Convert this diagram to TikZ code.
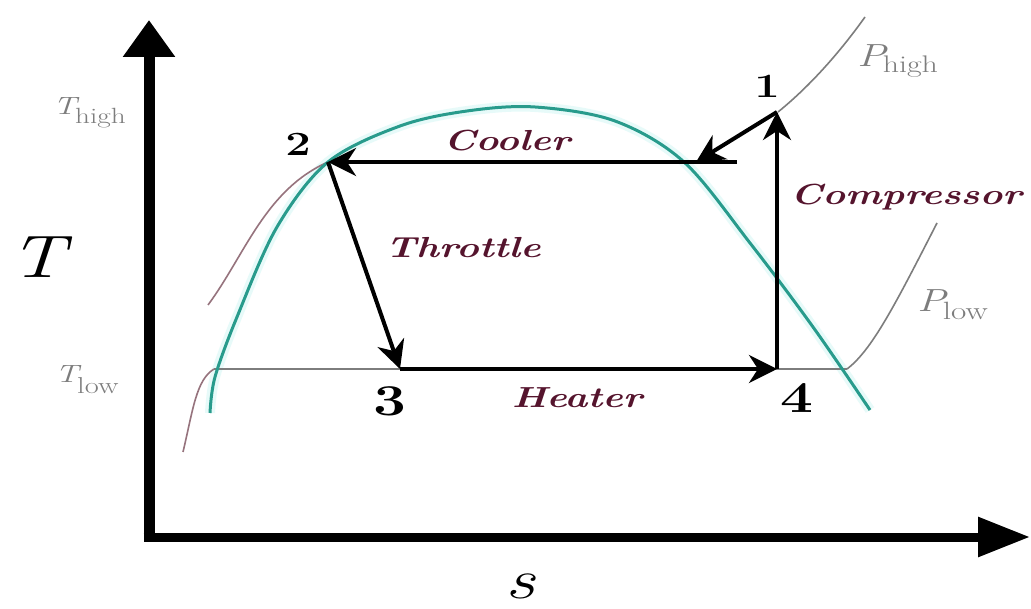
\documentclass[tikz,border=0pt]{standalone}
\usepackage{fontspec}
\usetikzlibrary{arrows.meta}
\definecolor{dome}{RGB}{40,155,140}
\definecolor{domehalo}{RGB}{215,248,245}
\definecolor{labred}{RGB}{85,20,45}
\definecolor{isogray}{RGB}{125,125,125}
\definecolor{liqgray}{RGB}{150,115,125}
\newcommand{\wide}[1]{\scalebox{1.33}[1]{#1}}
\newcommand{\procfont}{\fontsize{29}{32}\selectfont\bfseries\itshape}
\newcommand{\numfont}{\fontsize{34}{36}\selectfont\bfseries}
\newcommand{\bignumfont}{\fontsize{44}{46}\selectfont\bfseries}
\begin{document}
\begin{tikzpicture}[x=1pt,y=-1pt,
  proc/.style={text=labred, inner sep=0pt, font=\procfont},
  num/.style={inner sep=0pt, font=\numfont},
  bignum/.style={inner sep=0pt, font=\bignumfont},
  gtext/.style={text=isogray, inner sep=0pt},
  cyc/.style={line width=4pt, -{Stealth[length=28pt,width=28pt,inset=9pt]}},
  iso/.style={isogray, line width=1.6pt},
  liq/.style={liqgray, line width=1.6pt},
  domeline/.style={dome, line width=3pt},
  halo/.style={domehalo, line width=10pt}
]
\useasboundingbox[fill=white] (0,0) rectangle (1031,609);

% axes
\coordinate (O) at (149,537);
\coordinate (Ytip) at (149,20);
\coordinate (Xtip) at (1030,537);
\draw[line width=11pt, -{Triangle[length=37pt,width=50pt]}] ([yshift=-4.5pt]O) -- (Ytip);
\draw[line width=9pt, -{Triangle[length=52pt,width=38pt]}] ([xshift=-5.5pt]O) -- (Xtip);

% dome halo
\def\domepts{(210,413) (215,377) (237,317) (277,227) (328,162) (400,126) (467,111) (535,107) (615,121) (684,162) (750,243) (813,327) (870,410)}
\draw[halo, opacity=0.6] plot[smooth, tension=0.55] coordinates {\domepts};

% isobars
\draw[liq] (208,305) .. controls (245,255) and (265,190) .. (328,162);
\draw[liq] (214,369) .. controls (196,380) and (193,410) .. (183,452);
\draw[iso] (778,112) .. controls (815,82) and (845,45) .. (865,17);
\draw[iso] (847,369) .. controls (872,350) and (895,305) .. (937,223);

% cycle points
\coordinate (p1) at (777,112);
\coordinate (p2) at (328,162);
\coordinate (p3) at (400,369);
\coordinate (p4) at (777,369);
\coordinate (cend) at (737,162);
\coordinate (d) at (696,162);
\coordinate (tl) at (214,369);
\coordinate (tr) at (847,369);

\draw[iso] (tl) -- (tr);
\draw[domeline] plot[smooth, tension=0.55] coordinates {\domepts};

\draw[cyc] (cend) -- (p2);
\draw[cyc] (p2) -- (p3);
\draw[cyc] (p3) -- (p4);
\draw[cyc] (p4) -- (p1);
\draw[cyc] (p1) -- (d);

% labels
\node[num] (n1) at (767,86) {\wide{1}};
\node[num] (n2) at (298,144) {\wide{2}};
\node[bignum] (n3) at (390,401) {\wide{3}};
\node[bignum] (n4) at (797,398) {\wide{4}};

\node[proc] (cooler) at (507,141) {\wide{Cooler}};
\node[proc] (throttle) at (463,248) {\wide{Throttle}};
\node[proc] (compressor) at (906,197) {\wide{Compressor}};
\node[proc] (heater) at (577,398) {\wide{Heater}};

\node[inner sep=0pt] (Tlab) at (37,257) {\wide{\fontsize{60}{66}\selectfont\itshape T}};
\node[inner sep=0pt] (slab) at (520,586) {\wide{\fontsize{56}{60}\selectfont\itshape s}};

\node[gtext, anchor=base west] (Thigh) at (53,115) {\wide{{\fontsize{25}{28}\selectfont\itshape T}\kern-1pt\raisebox{-9pt}{\fontsize{22}{24}\selectfont high}}};
\node[gtext, anchor=base west] (Tlow) at (55,383) {\wide{{\fontsize{25}{28}\selectfont\itshape T}\kern-1pt\raisebox{-11pt}{\fontsize{23}{24}\selectfont low}}};
\node[gtext, anchor=base west] (Phigh) at (857,67) {\wide{{\fontsize{32}{34}\selectfont\itshape P}\kern-2pt\raisebox{-6pt}{\fontsize{24}{26}\selectfont high}}};
\node[gtext, anchor=base west] (Plow) at (917,312) {\wide{{\fontsize{32}{34}\selectfont\itshape P}\kern-2pt\raisebox{-8pt}{\fontsize{25}{26}\selectfont low}}};
\end{tikzpicture}
\end{document}
